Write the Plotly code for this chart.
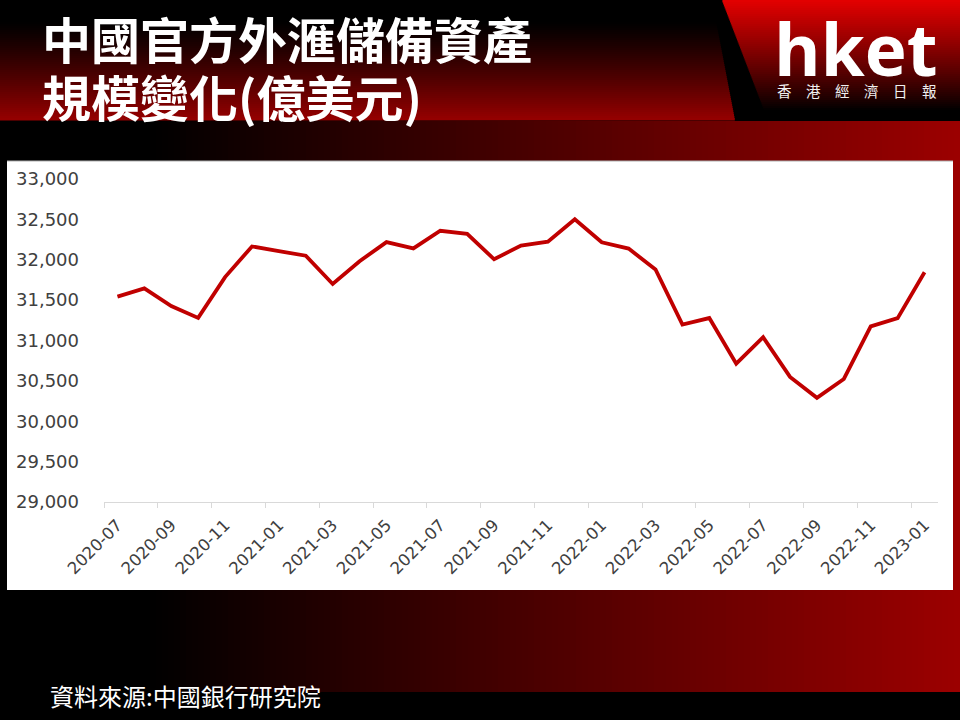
import plotly.graph_objects as go

# ---------------- data ----------------
months = [
    "2020-07", "2020-08", "2020-09", "2020-10", "2020-11", "2020-12",
    "2021-01", "2021-02", "2021-03", "2021-04", "2021-05", "2021-06",
    "2021-07", "2021-08", "2021-09", "2021-10", "2021-11", "2021-12",
    "2022-01", "2022-02", "2022-03", "2022-04", "2022-05", "2022-06",
    "2022-07", "2022-08", "2022-09", "2022-10", "2022-11", "2022-12",
    "2023-01",
]
reserves = [
    31544, 31646, 31426, 31280, 31785, 32165,
    32107, 32050, 31700, 31982, 32218, 32140,
    32359, 32321, 32006, 32176, 32224, 32502,
    32216, 32138, 31880, 31197, 31278, 30713,
    31041, 30549, 30290, 30524, 31175, 31277,
    31845,
]
tick_labels = months[::2]
tick_positions = list(range(0, len(months), 2))
y_ticks = [29000, 29500, 30000, 30500, 31000, 31500, 32000, 32500, 33000]

title_line1 = "中國官方外滙儲備資產"
title_line2 = "規模變化(億美元)"
source_text = "資料來源:中國銀行研究院"
logo_text = "hket"
logo_sub = "香　港　經　濟　日　報"

# ---------------- geometry helpers ----------------
W, H = 960, 720
ML, MR, MT, MB = 104, 22, 179, 218
PW = W - ML - MR
PH = H - MT - MB


def fx(x):
    return (x - ML) / PW


def fy(y):
    return (H - MB - y) / PH


shapes = []


def rect(x0, y0, x1, y1, color):
    shapes.append(dict(type="rect", xref="paper", yref="paper",
                       x0=fx(x0), x1=fx(x1), y0=fy(y1), y1=fy(y0),
                       fillcolor=color, line=dict(width=0), layer="below"))


# lower horizontal gradient band (black -> red)
step = 6
x = 150
while x < W:
    t = (x + step / 2 - 150) / (W - 150)
    r = int(round(156 * t))
    rect(x, 121, x + step + 0.8, 692, f"rgb({r},0,0)")
    x += step

# header left region: vertical gradient black -> dark red, slanted right edge
for y in range(0, 120, 2):
    t = max(0.0, (y + 1 - 22) / 98)
    r = int(round(150 * t ** 1.15))
    xl = 712 + 23 * ((y + 1) / 120)
    rect(0, y, xl, y + 2.6, f"rgb({r},0,0)")

# header right panel: vertical gradient bright red -> black
for y in range(0, 120, 2):
    t = max(0.0, 1 - (y + 1) / 110)
    r = int(round(228 * t ** 0.9))
    xr = 722 + 46 * ((y + 1) / 120)
    rect(xr, y, W, y + 2.6, f"rgb({r},0,0)")

# white chart box
rect(7, 161, 953, 590, "white")
shapes.append(dict(type="line", xref="paper", yref="paper",
                   x0=fx(7), x1=fx(953), y0=fy(161), y1=fy(161),
                   line=dict(color="#b0b0b0", width=1), layer="below"))

# ---------------- figure ----------------
fig = go.Figure()
fig.add_trace(go.Scatter(
    x=list(range(len(months))), y=reserves, mode="lines",
    line=dict(color="#c00000", width=3.8),
    hoverinfo="skip", showlegend=False,
))

annotations = [
    dict(text=f"<b>{title_line1}</b>", x=fx(40), y=fy(37), xanchor="left", yanchor="middle",
         font=dict(family="Noto Sans CJK TC", size=49, color="white")),
    dict(text=f"<b>{title_line2}</b>", x=fx(40), y=fy(95), xanchor="left", yanchor="middle",
         font=dict(family="Noto Sans CJK TC", size=49, color="white")),
    dict(text=f"<b>{logo_text}</b>", x=fx(855), y=fy(48), xanchor="center", yanchor="middle",
         font=dict(family="Open Sans", size=71, color="white")),
    dict(text=logo_sub, x=fx(857), y=fy(91), xanchor="center", yanchor="middle",
         font=dict(family="Noto Sans CJK TC", size=14.5, color="#f0f0f0")),
    dict(text=source_text, x=fx(48), y=fy(695), xanchor="left", yanchor="middle",
         font=dict(family="Noto Sans CJK TC", size=24, color="white")),
]
for a in annotations:
    a.update(xref="paper", yref="paper", showarrow=False)

fig.update_layout(
    width=W, height=H,
    margin=dict(l=ML, r=MR, t=MT, b=MB, autoexpand=False),
    paper_bgcolor="black",
    plot_bgcolor="rgba(0,0,0,0)",
    shapes=shapes,
    annotations=annotations,
    showlegend=False,
    xaxis=dict(
        range=[-0.5, len(months) - 0.5],
        tickmode="array", tickvals=tick_positions, ticktext=tick_labels,
        tickangle=-45, ticks="",
        tickfont=dict(family="DejaVu Sans", size=16.5, color="#404040"),
        ticklabelstandoff=6,
        showline=True, linecolor="#d9d9d9", linewidth=1,
        showgrid=False, zeroline=False,
        minor=dict(ticks="outside", tick0=-0.5, dtick=2, ticklen=5,
                   tickcolor="#d9d9d9", tickwidth=1, showgrid=False),
    ),
    yaxis=dict(
        range=[29000, 33000],
        tickmode="array", tickvals=y_ticks, tickformat=",d",
        ticks="", showgrid=False, zeroline=False, showline=False,
        tickfont=dict(family="DejaVu Sans", size=18, color="#404040"),
        ticklabelstandoff=24,
    ),
)

fig.write_html(
    "out.html",
    config={"displayModeBar": False},
    post_script="document.body.style.margin='0';document.body.style.overflow='hidden';",
)
